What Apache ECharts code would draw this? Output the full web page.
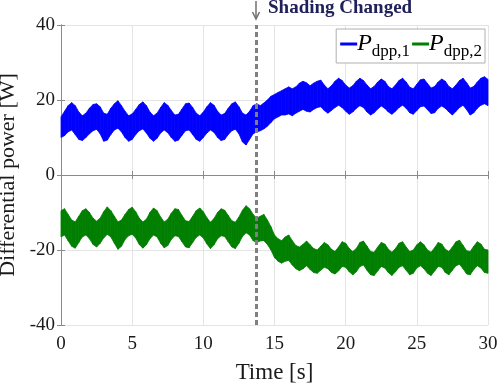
<!DOCTYPE html>
<html>
<head>
<meta charset="utf-8">
<script src="https://cdn.jsdelivr.net/npm/echarts@6/dist/echarts.min.js"></script>
<style>
  html, body { margin: 0; padding: 0; background: #fff; }
  #main { width: 498px; height: 385px; }
</style>
</head>
<body>
<div id="main"></div>
<script>
// time axis, one sample every 0.25 s (envelopes)
const times = [];
for (let i = 0; i <= 120; i++) times.push(i * 0.25);

// P_dpp,1 band (upper / lower edge)
const p1Upper = [
  15.5, 17.0, 18.5, 19.3, 18.5, 16.8, 15.8, 16.5, 17.8, 18.8, 19.0, 18.2, 16.5, 16.2, 17.8, 19.0,
  19.8, 18.5, 17.0, 15.8, 16.3, 17.5, 18.8, 19.5, 18.5, 16.8, 15.8, 16.5, 18.0, 19.3, 18.6, 17.2,
  16.0, 16.2, 17.6, 19.0, 19.2, 18.0, 16.5, 15.8, 16.8, 18.2, 19.3, 18.6, 17.0, 16.0, 16.4, 17.8,
  19.0, 19.5, 18.2, 16.5, 16.0, 17.0, 18.5, 19.0, 18.5, 19.2, 20.0, 21.0, 21.5, 22.0, 22.5, 23.0,
  23.5, 23.0, 23.5, 24.5, 25.0, 24.6, 23.8, 24.5, 25.0, 25.3, 24.0, 23.0, 23.8, 25.0, 25.8, 25.2,
  24.0, 23.2, 23.8, 25.0, 25.8, 25.2, 24.0, 23.0, 23.6, 24.8, 25.6, 25.0, 23.6, 23.0, 24.0, 25.2,
  25.8, 24.8, 23.4, 23.0, 24.2, 25.4, 25.6, 24.4, 23.2, 23.6, 24.8, 25.6, 25.0, 23.6, 23.0, 24.0,
  25.2, 25.8, 24.6, 23.2, 23.6, 24.8, 25.8, 26.2, 25.5
];
const p1Lower = [
  10.0, 10.5, 11.5, 12.0, 10.8, 9.5, 9.2, 10.0, 11.0, 11.8, 12.2, 11.0, 9.0, 9.3, 10.8, 12.0,
  12.5, 11.5, 10.0, 9.0, 9.5, 10.8, 11.8, 12.3, 11.2, 9.8, 9.0, 9.8, 11.2, 12.0, 11.3, 10.0,
  9.0, 9.3, 10.6, 11.8, 12.0, 10.8, 9.5, 9.0, 10.0, 11.2, 12.0, 11.4, 10.0, 9.2, 9.5, 10.8,
  11.8, 12.2, 11.0, 8.8, 8.0, 9.5, 11.0, 11.5, 11.8, 12.3, 13.0, 14.0, 15.0, 15.5, 16.0, 16.0,
  16.3, 15.8, 16.5, 17.0, 17.5, 17.0, 16.8, 17.5, 18.0, 18.2, 17.2, 16.5, 17.2, 18.0, 18.6, 18.0,
  17.0, 16.2, 16.8, 17.8, 18.5, 18.0, 16.8, 16.0, 16.6, 17.6, 18.4, 17.8, 16.8, 16.2, 17.0, 18.0,
  18.6, 17.8, 16.6, 16.2, 17.2, 18.2, 18.4, 17.4, 16.4, 16.6, 17.8, 18.4, 17.8, 16.8, 16.0, 17.0,
  18.0, 18.6, 17.4, 16.0, 16.6, 17.8, 18.6, 19.0, 18.5
];

// P_dpp,2 band (upper / lower edge)
const p2Upper = [
  -9.5, -9.0, -10.5, -12.0, -12.5, -11.0, -9.5, -9.0, -10.0, -11.5, -12.3, -11.5, -9.8, -8.5, -9.5, -11.0,
  -12.5, -12.0, -10.5, -9.2, -8.6, -9.8, -11.5, -12.5, -11.8, -10.0, -8.8, -9.5, -11.2, -12.5, -11.8, -10.2,
  -9.0, -9.2, -10.8, -12.2, -12.4, -11.0, -9.5, -8.8, -9.8, -11.4, -12.6, -11.6, -10.0, -9.0, -9.4, -10.8,
  -12.2, -12.6, -11.2, -9.4, -8.2, -9.0, -10.5, -11.5, -11.0, -10.5, -12.0, -13.8, -16.0, -17.0, -17.5, -16.5,
  -16.0, -17.5, -18.8, -19.2, -18.5, -17.6, -18.6, -19.6, -20.0, -19.0, -18.0, -18.6, -19.8, -20.4, -19.2, -17.8,
  -18.2, -19.6, -20.4, -19.6, -18.0, -17.6, -19.0, -20.4, -20.6, -19.2, -18.0, -18.4, -19.8, -20.6, -19.6, -18.2,
  -17.8, -19.2, -20.4, -20.0, -18.6, -17.8, -18.6, -20.0, -20.6, -19.4, -18.0, -18.4, -19.8, -20.4, -19.2, -17.8,
  -17.4, -18.8, -20.2, -20.4, -19.0, -17.8, -18.4, -19.8, -20.0
];
const p2Lower = [
  -16.5, -16.0, -17.5, -19.0, -19.5, -18.0, -16.5, -16.0, -17.0, -18.5, -19.2, -18.2, -16.8, -15.8, -16.5, -18.2,
  -19.8, -19.0, -17.2, -16.2, -15.8, -16.8, -18.5, -19.5, -18.6, -17.0, -16.0, -16.5, -18.2, -19.4, -18.8, -17.2,
  -16.2, -16.4, -17.8, -19.2, -19.4, -18.0, -16.6, -16.0, -16.8, -18.4, -19.6, -18.6, -17.0, -16.2, -16.4, -17.8,
  -19.2, -19.6, -18.2, -16.4, -15.4, -16.0, -17.5, -18.0, -17.6, -17.5, -18.5, -20.0, -22.0, -23.0, -23.5, -23.0,
  -22.8, -24.0, -25.0, -25.5, -25.0, -24.2, -25.2, -26.0, -26.2, -25.4, -24.6, -25.0, -26.0, -26.4, -25.6, -24.4,
  -24.6, -25.8, -26.6, -25.8, -24.4, -24.0, -25.4, -26.6, -26.8, -25.6, -24.4, -24.8, -26.0, -26.8, -25.8, -24.6,
  -24.2, -25.4, -26.6, -26.2, -24.8, -24.2, -25.0, -26.2, -26.8, -25.6, -24.4, -24.6, -26.0, -26.6, -25.4, -24.2,
  -23.8, -25.0, -26.4, -26.6, -25.2, -24.2, -24.8, -26.0, -26.2
];

const xTicks = [0, 5, 10, 15, 20, 25, 30];
const yTicks = [-40, -20, 0, 20, 40];
const changeTime = 13.7;

const serif = "'Liberation Serif', 'Times New Roman', serif";
const blue = '#0000ff';
const green = '#007f00';

// one quad per time step: [t0, t1, hi0, hi1, lo0, lo1]
const toQuads = (hi, lo) => {
  const out = [];
  for (let i = 0; i < times.length - 1; i++) {
    out.push([times[i], times[i + 1], hi[i], hi[i + 1], lo[i], lo[i + 1]]);
  }
  return out;
};

const bandSeries = (name, color, hi, lo) => ({
  name: name,
  type: 'custom',
  data: toQuads(hi, lo),
  encode: { x: [0, 1], y: [2, 3, 4, 5] },
  itemStyle: { color: color },
  silent: true,
  renderItem: function (params, api) {
    const a = api.coord([api.value(0), api.value(2)]);
    const b = api.coord([api.value(1), api.value(3)]);
    const c = api.coord([api.value(1), api.value(5)]);
    const d = api.coord([api.value(0), api.value(4)]);
    return {
      type: 'polygon',
      shape: { points: [a, b, c, d] },
      style: { fill: color, stroke: color, lineWidth: 0.8 },
    };
  },
});

const axisCommon = {
  type: 'value',
  axisLine: { show: true, lineStyle: { color: '#8a8a8a', width: 1 } },
  axisTick: { show: true, inside: true, length: 4, lineStyle: { color: '#8a8a8a' } },
};

const myChart = echarts.init(document.getElementById('main'));

const option = {
  animation: false,
  backgroundColor: '#fff',
  textStyle: { fontFamily: serif },
  grid: { left: 61, right: 10, top: 25, bottom: 60, containLabel: false, outerBoundsMode: 'none' },
  legend: {
    data: ['P1', 'P2'],
    right: 13,
    top: 29,
    orient: 'horizontal',
    icon: 'rect',
    itemWidth: 17,
    itemHeight: 3,
    itemGap: 2,
    padding: [3, 3, 3, 4],
    backgroundColor: '#fff',
    borderColor: '#b0b0b0',
    borderWidth: 1,
    borderRadius: 0,
    formatter: (n) => (n === 'P1' ? '{p|P}{s|dpp,1}' : '{p|P}{s|dpp,2}'),
    textStyle: {
      fontFamily: serif,
      color: '#000',
      padding: [0, 0, 0, -5],
      rich: {
        p: { fontFamily: serif, fontStyle: 'italic', fontSize: 24, color: '#000' },
        s: { fontFamily: serif, fontSize: 17, color: '#000', padding: [15, 0, 0, 0] },
      },
    },
  },
  xAxis: [
    Object.assign({}, axisCommon, {
      min: 0, max: 30, interval: 5,
      name: 'Time [s]',
      nameLocation: 'middle',
      nameGap: 36,
      nameTextStyle: { fontFamily: serif, fontSize: 23, color: '#1a1a1a' },
      axisLabel: {
        fontFamily: serif, fontSize: 19, color: '#1a1a1a', margin: 10,
        formatter: (v) => (xTicks.includes(v) ? String(v) : ''),
      },
      splitLine: { show: true, lineStyle: { color: '#e4e4e4', width: 1 } },
    }),
    Object.assign({}, axisCommon, {
      min: 0, max: 30, interval: 5, position: 'top',
      axisLabel: { show: false }, splitLine: { show: false },
    }),
  ],
  yAxis: [
    Object.assign({}, axisCommon, {
      min: -40, max: 40, interval: 20,
      name: 'Differential power [W]',
      nameLocation: 'middle',
      nameGap: 33,
      nameTextStyle: { fontFamily: serif, fontSize: 22, color: '#1a1a1a' },
      axisLabel: {
        fontFamily: serif, fontSize: 19, color: '#1a1a1a', margin: 6,
        formatter: (v) => (yTicks.includes(v) ? String(v) : ''),
      },
      splitLine: { show: true, lineStyle: { color: '#e4e4e4', width: 1 } },
    }),
    Object.assign({}, axisCommon, {
      min: -40, max: 40, interval: 20, position: 'right',
      axisLabel: { show: false }, splitLine: { show: false },
    }),
  ],
  series: [
    bandSeries('P1', blue, p1Upper, p1Lower),
    bandSeries('P2', green, p2Upper, p2Lower),
    {
      name: 'change',
      type: 'line',
      data: [],
      markLine: {
        silent: true,
        symbol: 'none',
        label: { show: false },
        lineStyle: { color: '#808080', width: 3, type: [5, 3] },
        data: [{ xAxis: changeTime }],
      },
    },
  ],
};

myChart.setOption(option);

// arrow + annotation above the dashed line
const xc = myChart.convertToPixel({ xAxisIndex: 0 }, changeTime);
myChart.setOption({
  graphic: [
    { type: 'line', shape: { x1: xc, y1: 1, x2: xc, y2: 18 }, style: { stroke: '#707070', lineWidth: 1.5 } },
    { type: 'polyline', shape: { points: [[xc - 3.5, 12], [xc, 19], [xc + 3.5, 12]] }, style: { stroke: '#707070', lineWidth: 1.5, fill: null } },
    {
      type: 'text', left: xc + 12, top: -1,
      style: { text: 'Shading Changed', font: "bold 19px 'Liberation Serif', serif", fill: '#20205a' },
    },
  ],
});
</script>
</body>
</html>
